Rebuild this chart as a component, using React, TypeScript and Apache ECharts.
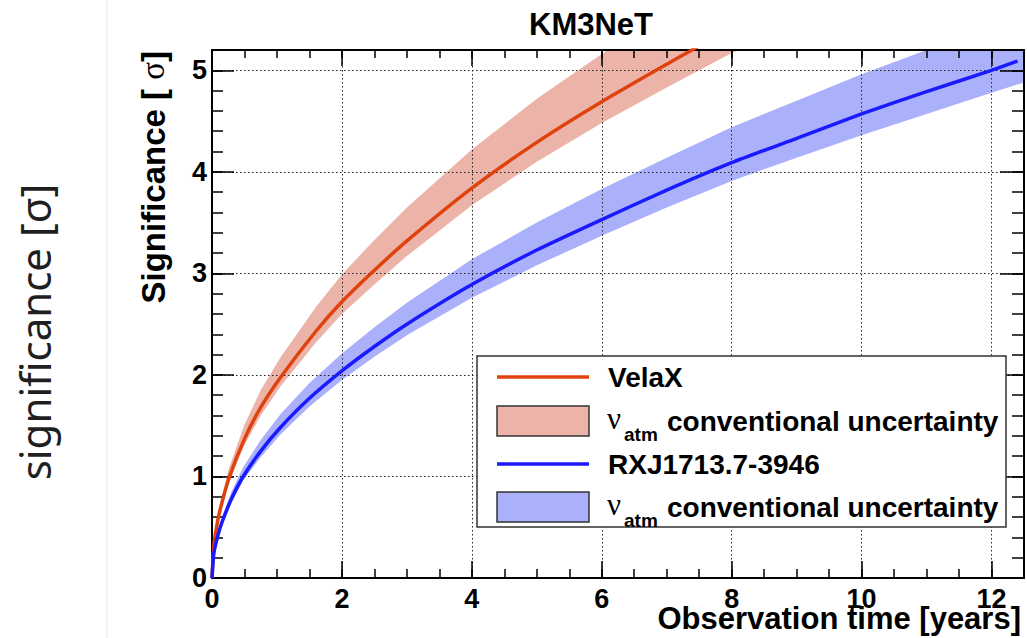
import React, { useEffect, useRef } from "react";
import * as echarts from "echarts";

// Observation time [years] and significance [sigma] for Vela X
const velaT = [0, 0.03, 0.07, 0.12, 0.26, 0.5, 0.75, 1.06, 1.6, 2, 2.5, 3, 4, 5, 6, 7, 7.5, 8, 9];
const velaSig = [0, 0.33, 0.5, 0.66, 0.98, 1.37, 1.68, 1.98, 2.43, 2.72, 3.03, 3.32, 3.84, 4.29, 4.69, 5.06, 5.24, 5.41, 5.74];
const velaLo = [0, 0.32, 0.48, 0.63, 0.94, 1.31, 1.6, 1.89, 2.32, 2.6, 2.89, 3.17, 3.67, 4.1, 4.48, 4.83, 5.0, 5.17, 5.48];
const velaHi = [0, 0.36, 0.55, 0.73, 1.08, 1.51, 1.85, 2.18, 2.67, 2.99, 3.33, 3.65, 4.22, 4.72, 5.16, 5.57, 5.76, 5.95, 6.31];

// Observation time [years] and significance [sigma] for RX J1713.7-3946
const rxjT = [0, 0.03, 0.1, 0.16, 0.3, 0.48, 0.75, 1.05, 1.5, 2, 2.5, 3, 4, 5, 6, 7, 8, 9, 10, 11, 12, 12.4];
const rxjSig = [0, 0.25, 0.44, 0.56, 0.78, 1.0, 1.25, 1.48, 1.77, 2.04, 2.28, 2.5, 2.89, 3.23, 3.53, 3.82, 4.09, 4.33, 4.57, 4.79, 5.0, 5.09];
const rxjBandT = [0, 0.03, 0.1, 0.16, 0.3, 0.48, 0.75, 1.05, 1.5, 2, 2.5, 3, 4, 5, 6, 7, 8, 9, 10, 11, 12, 12.5];
const rxjLo = [0, 0.24, 0.42, 0.53, 0.74, 0.96, 1.19, 1.41, 1.69, 1.95, 2.18, 2.39, 2.76, 3.08, 3.37, 3.65, 3.91, 4.14, 4.36, 4.57, 4.78, 4.88];
const rxjHi = [0, 0.27, 0.48, 0.61, 0.85, 1.09, 1.36, 1.61, 1.92, 2.21, 2.47, 2.71, 3.14, 3.5, 3.83, 4.14, 4.44, 4.7, 4.96, 5.2, 5.43, 5.55];

const legendNames = ["VelaX", "RXJ1713.7-3946"];
const bandLabel = "conventional uncertainty";

const RED = "#e0420e";
const RED_BAND = "#ecb4a8";
const BLUE = "#1a1aff";
const BLUE_BAND = "#aab0fa";

const FONT = '"Liberation Sans", Arial, Helvetica, sans-serif';
const SERIF = '"Liberation Serif", "DejaVu Serif", serif';

const pairs = (t: number[], v: number[]) => t.map((x, i) => [x, v[i]]);

// Uncertainty band: one polygon running along the upper edge and back along the lower edge
function bandSeries(t: number[], lo: number[], hi: number[], color: string) {
  return {
    type: "custom",
    data: t.map((x, i) => [x, lo[i], hi[i]]),
    clip: true,
    z: 1,
    silent: true,
    renderItem: (params: any, api: any) => {
      if (params.dataIndex !== 0) return null;
      const upper = t.map((x, i) => api.coord([x, hi[i]]));
      const lower = t.map((x, i) => api.coord([x, lo[i]])).reverse();
      return {
        type: "polygon",
        shape: { points: upper.concat(lower) },
        style: { fill: color, stroke: "none" },
      };
    },
  };
}

function curveSeries(t: number[], v: number[], color: string) {
  return {
    type: "line",
    data: pairs(t, v),
    symbol: "none",
    smooth: 0.2,
    lineStyle: { color, width: 3.5 },
    z: 3,
    silent: true,
  };
}

const frameLine = { color: "#000", width: 2 };
const tickLine = { color: "#000", width: 1.5 };

function tickAxis(position: string, min: number, max: number, interval: number, length: number, line: boolean) {
  return {
    type: "value",
    position,
    min,
    max,
    interval,
    z: 2,
    axisLine: { show: line, onZero: false, lineStyle: frameLine },
    axisTick: { show: true, inside: true, length, lineStyle: tickLine },
    axisLabel: { show: false },
    splitLine: { show: false },
  };
}

const labelStyle = { fontSize: 27, fontWeight: "bold", fontFamily: FONT, color: "#000" };
const gridDots = { color: "#222", width: 1, type: [1.5, 2.5] };

function txt(x: number, y: number, text: string, style: any, extra: any = {}) {
  return { type: "text", x, y, z: 10, ...extra, style: { text, fill: "#000", ...style } };
}

function legendRow(y: number, kind: "line" | "box", color: string, label: string | null) {
  const items: any[] = [];
  if (kind === "line") {
    items.push({
      type: "line",
      z: 10,
      shape: { x1: 497, y1: y, x2: 589, y2: y },
      style: { stroke: color, lineWidth: 3.5 },
    });
    items.push(txt(608, y, label as string, { fontSize: 28, fontWeight: "bold", fontFamily: FONT, align: "left", verticalAlign: "middle" }));
  } else {
    items.push({
      type: "rect",
      z: 10,
      shape: { x: 497, y: y - 15, width: 92, height: 30 },
      style: { fill: color, stroke: "#333", lineWidth: 1.5 },
    });
    items.push(txt(607, y - 3, "ν", { fontSize: 31, fontFamily: SERIF, align: "left", verticalAlign: "middle" }));
    items.push(txt(624, y + 13, "atm", { fontSize: 19, fontWeight: "bold", fontFamily: FONT, align: "left", verticalAlign: "middle" }));
    items.push(txt(667, y, bandLabel, { fontSize: 28, fontWeight: "bold", fontFamily: FONT, align: "left", verticalAlign: "middle" }));
  }
  return items;
}

const option: any = {
  animation: false,
  backgroundColor: "#fff",
  grid: { left: 212, right: 3, top: 50, bottom: 60, containLabel: false },
  xAxis: [
    {
      type: "value",
      position: "bottom",
      min: 0,
      max: 12.5,
      interval: 2,
      z: 2,
      axisLine: { show: true, onZero: false, lineStyle: frameLine },
      axisTick: { show: true, inside: true, length: 17, lineStyle: tickLine },
      axisLabel: { show: true, showMaxLabel: false, margin: 7, ...labelStyle },
      splitLine: { show: true, lineStyle: gridDots },
    },
    tickAxis("bottom", 0, 12.5, 0.5, 9, false),
    tickAxis("top", 0, 12.5, 2, 16, true),
    tickAxis("top", 0, 12.5, 0.5, 8, false),
  ],
  yAxis: [
    {
      type: "value",
      position: "left",
      min: 0,
      max: 5.2,
      interval: 1,
      z: 2,
      axisLine: { show: true, onZero: false, lineStyle: frameLine },
      axisTick: { show: true, inside: true, length: 22, lineStyle: tickLine },
      axisLabel: { show: true, showMaxLabel: false, margin: 5, ...labelStyle },
      splitLine: { show: true, lineStyle: gridDots },
    },
    tickAxis("left", 0, 5.2, 0.2, 11, false),
    tickAxis("right", 0, 5.2, 1, 24, true),
    tickAxis("right", 0, 5.2, 0.2, 12, false),
  ],
  series: [
    bandSeries(velaT, velaLo, velaHi, RED_BAND),
    bandSeries(rxjBandT, rxjLo, rxjHi, BLUE_BAND),
    curveSeries(velaT, velaSig, RED),
    curveSeries(rxjT, rxjSig, BLUE),
  ],
  graphic: [
    {
      type: "line",
      z: 0,
      shape: { x1: 107, y1: 0, x2: 107, y2: 638 },
      style: { stroke: "#f1f1ec", lineWidth: 1.5 },
    },
    txt(34, 332, "significance [σ]", { fontSize: 42, fontFamily: '"Noto Sans", "Open Sans", sans-serif', fill: "#1f1f1f", align: "center", verticalAlign: "middle" }, { rotation: Math.PI / 2 }),
    txt(591, 24, "KM3NeT", { fontSize: 31, fontWeight: "bold", fontFamily: FONT, align: "center", verticalAlign: "middle" }),
    {
      type: "text",
      x: 153,
      y: 51,
      z: 10,
      rotation: Math.PI / 2,
      style: {
        text: "{b|Significance [ }{s|σ}{b|]}",
        align: "right",
        verticalAlign: "middle",
        rich: {
          b: { fontSize: 33, fontWeight: "bold", fontFamily: FONT, fill: "#000" },
          s: { fontSize: 33, fontFamily: SERIF, fill: "#000" },
        },
      },
    },
    txt(1021, 618, "Observation time [years]", { fontSize: 31, fontWeight: "bold", fontFamily: FONT, align: "right", verticalAlign: "middle" }),
    {
      type: "rect",
      z: 10,
      shape: { x: 477, y: 356, width: 529, height: 171 },
      style: { fill: "#fff", stroke: "#333", lineWidth: 1.5 },
    },
    ...legendRow(377, "line", RED, legendNames[0]),
    ...legendRow(421, "box", RED_BAND, null),
    ...legendRow(464, "line", BLUE, legendNames[1]),
    ...legendRow(507, "box", BLUE_BAND, null),
  ],
};

export default function App() {
  const ref = useRef<HTMLDivElement>(null);
  useEffect(() => {
    const chart = echarts.init(ref.current as HTMLDivElement, null, { renderer: "svg" });
    chart.setOption(option);
    return () => chart.dispose();
  }, []);
  return (
    <div
      ref={ref}
      style={{ position: "fixed", left: 0, top: 0, width: 1027, height: 638, background: "#fff" }}
    />
  );
}
